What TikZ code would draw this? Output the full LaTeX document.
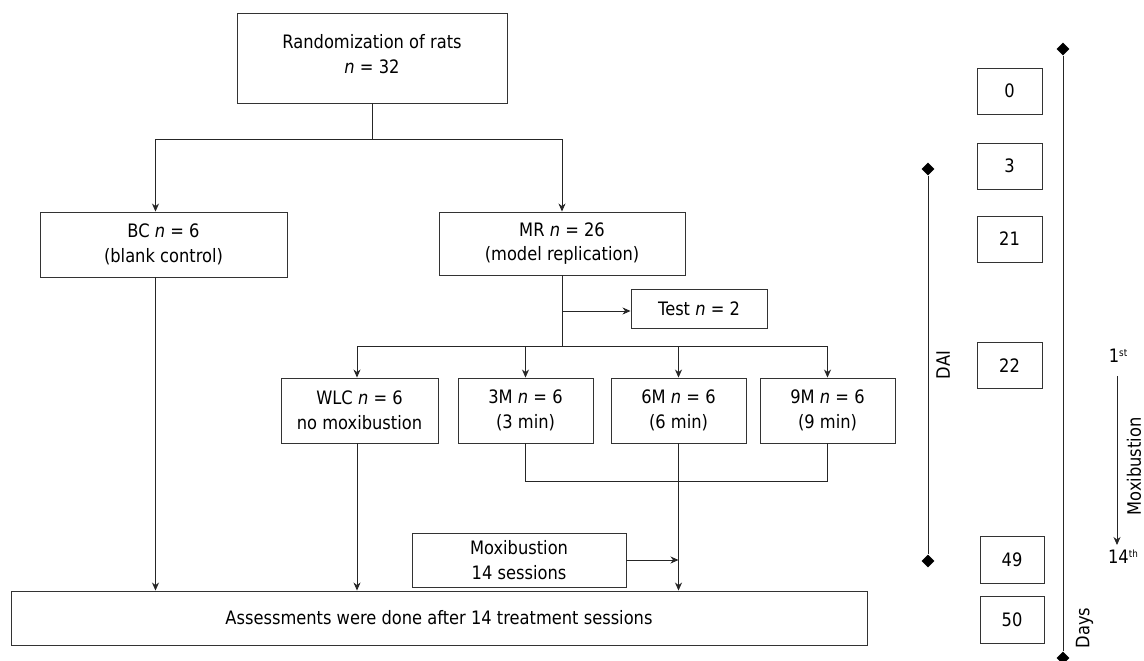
\documentclass[tikz,border=0pt]{standalone}
\usepackage{fontspec}
\setmainfont{DejaVu Sans}[FakeStretch=0.88]
\usetikzlibrary{arrows.meta,shapes.geometric}
\begin{document}
\begin{tikzpicture}[x=1pt,y=-1pt,
  every node/.style={font=\fontsize{18.5}{24.5}\selectfont, text=black},
  box/.style={draw=black!80, line width=0.9pt, rectangle, inner sep=0pt, align=center},
  conn/.style={draw=black!85, line width=0.9pt},
  arr/.style={conn, -{Stealth[length=8pt,width=7pt,inset=2.5pt]}},
  dia/.style={diamond, fill=black, draw=none, minimum size=13pt, inner sep=0pt},
  lbl/.style={inner sep=0pt},
]
\useasboundingbox (0,0) rectangle (1144,661);
% main flow
\node[box, minimum width=270pt, minimum height=90pt] (rand) at (372,58) {};
\node[lbl, align=center] (randtxt) at (372,54) {Randomization of rats\\\textit{n} = 32};
\node[box, minimum width=247pt, minimum height=65pt] (bc) at (163.5,244.5) {BC \textit{n} = 6\\(blank control)};
\node[box, minimum width=246pt, minimum height=63pt] (mr) at (562,243.5) {MR \textit{n} = 26\\(model replication)};
\node[box, minimum width=136pt, minimum height=39pt] (test) at (699,308.5) {Test \textit{n} = 2};
\node[box, minimum width=157pt, minimum height=65pt] (wlc) at (359.5,410.5) {WLC \textit{n} = 6\\no moxibustion};
\node[box, minimum width=135pt, minimum height=65pt] (three) at (525.5,410.5) {3M \textit{n} = 6\\(3 min)};
\node[box, minimum width=135pt, minimum height=65pt] (six) at (678.5,410.5) {6M \textit{n} = 6\\(6 min)};
\node[box, minimum width=135pt, minimum height=65pt] (nine) at (827.5,410.5) {9M \textit{n} = 6\\(9 min)};
\node[box, minimum width=214pt, minimum height=54pt] (mox) at (519,560) {Moxibustion\\14 sessions};
\node[box, minimum width=856pt, minimum height=54pt] (assess) at (439,618) {Assessments were done after 14 treatment sessions};

% connectors
\draw[conn] (rand.south) -- (372,139) coordinate (j1);
\draw[arr] (j1) -| ([xshift=-8pt]bc.north);
\draw[arr] (j1) -| (mr.north);
\draw[arr] ([xshift=-8pt]bc.south) -- ([xshift=-8pt]bc.south |- assess.north);
\draw[conn] (mr.south) -- (562,346) coordinate (j2);
\draw[arr] (562,311) coordinate (jt) -- (jt -| test.west);
\draw[arr] (j2) -| ([xshift=-2.5pt]wlc.north);
\draw[arr] (j2) -| (nine.north);
\draw[arr] (j2 -| three.north) -- (three.north);
\draw[arr] (j2 -| six.north) -- (six.north);
\draw[arr] ([xshift=-2.5pt]wlc.south) -- ([xshift=-2.5pt]wlc.south |- assess.north);
\draw[conn] (three.south) -- ++(0,38) -| (nine.south);
\draw[arr] (six.south) -- (six.south |- assess.north);
\draw[arr] (mox.east) -- (mox.east -| six.south);

% timeline
\node[box, minimum width=65pt, minimum height=46pt] (d0) at (1009.5,91) {0};
\node[box, minimum width=65pt, minimum height=46pt] (d3) at (1009.5,166) {3};
\node[box, minimum width=65pt, minimum height=46pt] (d21) at (1009.5,239) {21};
\node[box, minimum width=65pt, minimum height=46pt] (d22) at (1009.5,365.5) {22};
\node[box, minimum width=64pt, minimum height=47pt] (d49) at (1012,559.5) {49};
\node[box, minimum width=64pt, minimum height=47pt] (d50) at (1012,619.5) {50};

\node[dia] (dtop) at (1063,49) {};
\node[dia] (dbot) at (1063,658) {};
\draw[conn] (dtop) -- (dbot);
\node[lbl, rotate=90] (days) at (1084.5,628) {Days};

\node[dia] (atop) at (928,169) {};
\node[dia] (abot) at (928,561) {};
\draw[conn] (atop) -- (abot);
\node[lbl, rotate=90] (dai) at (943,365) {DAI};

\node[lbl] (first) at (1118,356) {1\raisebox{6pt}{\fontsize{10}{10}\selectfont st}};
\node[lbl] (last) at (1123,557) {14\raisebox{6pt}{\fontsize{10}{10}\selectfont th}};
\draw[arr] ([xshift=-1pt,yshift=-13pt]first.south) -- ([xshift=-1pt]first.south |- 0,545);
\node[lbl, rotate=90] (moxlbl) at (1134,466.5) {Moxibustion};
\end{tikzpicture}
\end{document}
